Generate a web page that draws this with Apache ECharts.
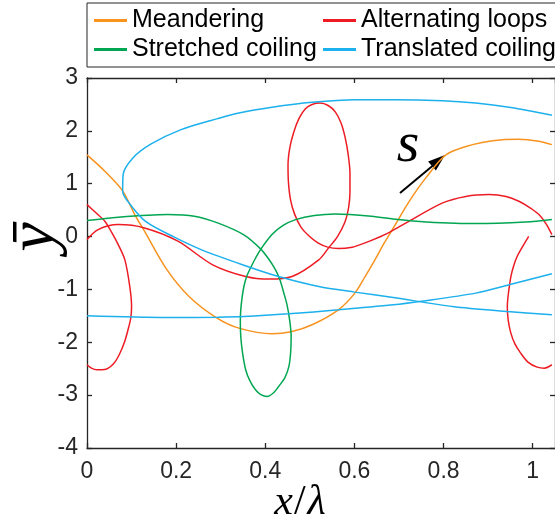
<!DOCTYPE html>
<html>
<head>
<meta charset="utf-8">
<script src="https://cdn.jsdelivr.net/npm/echarts@6/dist/echarts.min.js"></script>
<style>
html,body{margin:0;padding:0;background:#fff;}
#c{width:555px;height:527px;}
</style>
</head>
<body>
<div id="c"></div>
<script>
// ---- data (x/lambda, y-bar) ----
const legendNames = ['Meandering', 'Alternating loops', 'Stretched coiling', 'Translated coiling'];
const xTicks = [0, 0.2, 0.4, 0.6, 0.8, 1];
const yTicks = [-4, -3, -2, -1, 0, 1, 2, 3];

const meandering = [
  [0,1.545],[0.040,1.236],[0.080,0.864],[0.107,0.416],[0.129,0.102],[0.178,-0.611],
  [0.229,-1.134],[0.289,-1.527],[0.341,-1.732],[0.415,-1.839],[0.460,-1.796],[0.505,-1.669],
  [0.564,-1.386],[0.601,-1.070],[0.624,-0.756],[0.646,-0.440],[0.667,-0.12],[0.687,0.16],
  [0.724,0.68],[0.761,1.12],[0.806,1.550],[0.865,1.739],[0.910,1.815],[0.969,1.841],
  [1.014,1.803],[1.043,1.739]
];

const stretched = [
  [0,0.302],[0.070,0.367],[0.181,0.416],[0.241,0.386],[0.293,0.259],[0.352,0.032],
  [0.390,-0.238],[0.408,-0.43],[0.423,-0.630],[0.433,-0.82],[0.441,-1.05],[0.449,-1.3],
  [0.455,-1.6],[0.458,-1.890],[0.457,-2.18],[0.453,-2.457],[0.444,-2.67],[0.430,-2.836],
  [0.418,-2.96],[0.404,-3.025],[0.390,-2.99],[0.378,-2.898],[0.365,-2.72],[0.356,-2.520],
  [0.349,-2.2],[0.345,-1.890],[0.344,-1.6],[0.345,-1.386],[0.348,-1.15],[0.352,-0.945],
  [0.358,-0.76],[0.367,-0.592],[0.378,-0.41],[0.390,-0.238],[0.415,0.038],[0.440,0.21],
  [0.468,0.321],[0.510,0.40],[0.557,0.429],[0.638,0.386],[0.698,0.321],[0.761,0.278],
  [0.872,0.246],[0.984,0.278],[1.043,0.325]
];

const translatedLower = [
  [0,-1.499],[0.181,-1.531],[0.293,-1.524],[0.352,-1.512],[0.453,-1.461],[0.564,-1.386],
  [0.687,-1.291],[0.746,-1.229],[0.872,-1.070],[0.947,-0.913],[1.043,-0.705]
];
const translatedUpper = [
  [1.043,2.295],[0.947,2.446],[0.872,2.527],[0.798,2.571],[0.687,2.590],[0.601,2.590],
  [0.505,2.541],[0.415,2.446],[0.341,2.338],[0.293,2.231],[0.211,2.023],[0.144,1.752],
  [0.103,1.488],[0.081,1.172],[0.080,0.858],[0.100,0.575],[0.133,0.278],[0.196,-0.011],
  [0.256,-0.246],[0.352,-0.541],[0.430,-0.756],[0.520,-0.945],[0.601,-1.051],[0.687,-1.153],
  [0.820,-1.323],[0.943,-1.418],[1.043,-1.480]
];

const loopsLeft = [
  [0,0.605],[0.020,0.45],[0.040,0.291],[0.056,0.07],[0.070,-0.151],[0.085,-0.440],
  [0.096,-0.945],[0.100,-1.323],[0.098,-1.55],[0.092,-1.764],[0.084,-2.0],[0.072,-2.24],
  [0.059,-2.41],[0.040,-2.515],[0.022,-2.52],[0.010,-2.49],[0,-2.425]
];
const loopsMain = [
  [0,-0.057],[0.025,0.132],[0.070,0.227],[0.129,0.164],[0.204,-0.087],[0.282,-0.535],
  [0.356,-0.756],[0.408,-0.805],[0.460,-0.756],[0.520,-0.440],[0.542,-0.214],[0.562,0.0],
  [0.579,0.280],[0.587,0.55],[0.590,0.85],[0.590,1.20],[0.586,1.55],[0.579,1.88],
  [0.570,2.15],[0.557,2.36],[0.541,2.48],[0.523,2.527],[0.505,2.50],[0.490,2.42],
  [0.476,2.24],[0.464,1.98],[0.455,1.68],[0.451,1.35],[0.452,1.02],[0.457,0.68],
  [0.466,0.42],[0.480,0.18],[0.497,0.02],[0.518,-0.12],[0.540,-0.20],[0.564,-0.227],
  [0.595,-0.20],[0.624,-0.119],[0.668,0.038],[0.709,0.227],[0.798,0.637],[0.850,0.76],
  [0.902,0.794],[0.940,0.76],[0.969,0.669],[0.995,0.54],[1.014,0.416],[1.030,0.24],[1.043,0.038]
];
const loopsRight = [
  [0.991,0.004],[0.978,-0.18],[0.965,-0.378],[0.957,-0.56],[0.951,-0.756],[0.946,-1.04],
  [0.943,-1.323],[0.945,-1.58],[0.951,-1.826],[0.960,-2.03],[0.973,-2.204],[0.990,-2.38],
  [1.010,-2.47],[1.026,-2.49],[1.043,-2.425]
];

// ---- styling ----
const C = {orange:'#F7931E', red:'#ED1C24', green:'#00A651', blue:'#1CB0EC', axis:'#262626'};
const LW = 1.5;

function lineSeries(name, data, color){
  return {
    type:'line', name:name, data:data, color:color, showSymbol:false, symbol:'none',
    smooth:0.3, clip:true, animation:false,
    lineStyle:{color:color, width:LW}
  };
}

const chart = echarts.init(document.getElementById('c'), null, {renderer:'canvas'});
const axisLine = {show:true, onZero:false, lineStyle:{color:C.axis, width:1.3}};
const axisTick = {show:true, inside:true, length:5, lineStyle:{color:C.axis, width:1.3}};
const labelStyle = {color:C.axis, fontSize:23, fontFamily:'Liberation Sans, Arial, sans-serif'};
const serif = '"Liberation Serif", "DejaVu Serif", serif';

const option = {
  animation:false,
  backgroundColor:'#fff',
  grid:{left:87, right:-3, top:78, bottom:79, containLabel:false},
  xAxis:[
    {type:'value', min:0, max:1.05, interval:0.2, position:'bottom',
     axisLine:axisLine, axisTick:axisTick, splitLine:{show:false},
     axisLabel:Object.assign({margin:12, showMaxLabel:false,
       formatter:function(v){ return xTicks.some(t=>Math.abs(t-v)<1e-9) ? String(+v.toFixed(1)) : ''; }}, labelStyle)},
    {type:'value', min:0, max:1.05, interval:0.2, position:'top',
     axisLine:axisLine, axisTick:axisTick, splitLine:{show:false}, axisLabel:{show:false}}
  ],
  yAxis:[
    {type:'value', min:-4, max:3, interval:1, position:'left',
     axisLine:axisLine, axisTick:axisTick, splitLine:{show:false},
     axisLabel:Object.assign({margin:9,
       formatter:function(v){ return yTicks.indexOf(v)>=0 ? String(v) : ''; }}, labelStyle)},
    {type:'value', min:-4, max:3, interval:1, position:'right',
     axisLine:axisLine, axisTick:axisTick, splitLine:{show:false}, axisLabel:{show:false}}
  ],
  legend:{
    data:legendNames, left:87, top:3, width:470, orient:'horizontal',
    itemGap:4, itemWidth:33, itemHeight:3, icon:'rect',
    padding:[5,7,5,7], borderColor:C.axis, borderWidth:1, backgroundColor:'#fff',
    textStyle:{fontSize:25, color:'#000', fontFamily:'Liberation Sans, Arial, sans-serif',
      width:187, lineHeight:23, overflow:'none'}
  },
  series:[
    lineSeries('Meandering', meandering, C.orange),
    lineSeries('Alternating loops', loopsLeft, C.red),
    lineSeries('Alternating loops', loopsMain, C.red),
    lineSeries('Alternating loops', loopsRight, C.red),
    lineSeries('Stretched coiling', stretched, C.green),
    lineSeries('Translated coiling', translatedLower, C.blue),
    lineSeries('Translated coiling', translatedUpper, C.blue)
  ],
  graphic:[
    {type:'text', x:300, y:503, style:{text:'{i|x}{n|/}{i|λ}', fill:'#000',
      textAlign:'center', textVerticalAlign:'middle',
      rich:{i:{font:'italic 42px ' + serif, fill:'#000'},
            n:{font:'42px ' + serif, fill:'#000', padding:[0,2,0,1]}}}},
    {type:'text', x:36, y:237, rotation:Math.PI/2, style:{text:'ȳ', font:'italic 66px ' + serif,
      fill:'#000', textAlign:'center', textVerticalAlign:'middle'}},
    {type:'text', x:408, y:146, style:{text:'s', font:'italic 58px ' + serif,
      fill:'#000', textAlign:'center', textVerticalAlign:'middle'}},
    {type:'line', shape:{x1:400, y1:193, x2:436, y2:163}, style:{stroke:'#000', lineWidth:2}},
    {type:'polygon', shape:{points:[[445,155],[435.9,170.6],[428.1,161.4]]}, style:{fill:'#000'}}
  ]
};
chart.setOption(option);
</script>
</body>
</html>
